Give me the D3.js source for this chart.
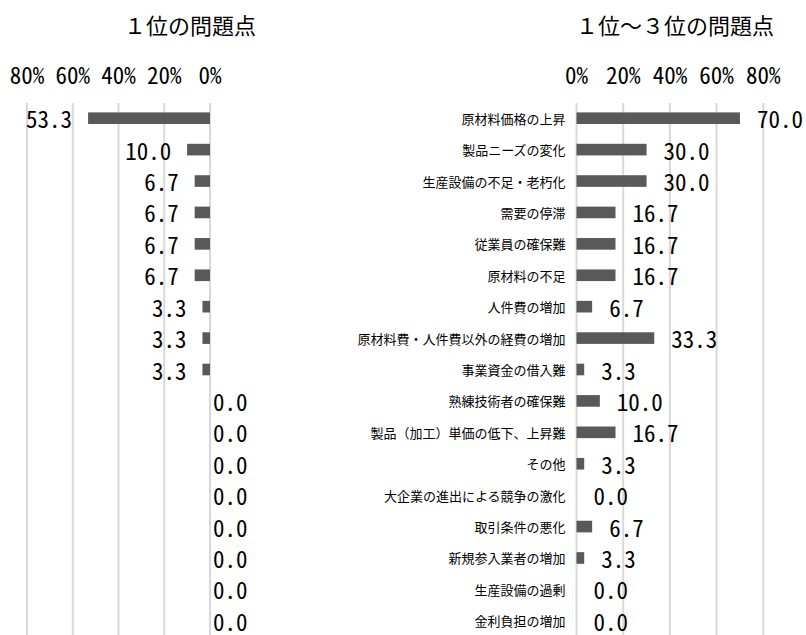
<!DOCTYPE html>
<html>
<head>
<meta charset="utf-8">
<script src="https://cdn.jsdelivr.net/npm/d3@7"></script>
<style>
  body { margin: 0; background: #fff; }
</style>
</head>
<body>
<svg width="806" height="635"></svg>
<script>
// categories top to bottom
const categories = [
    "原材料価格の上昇",
    "製品ニーズの変化",
    "生産設備の不足・老朽化",
    "需要の停滞",
    "従業員の確保難",
    "原材料の不足",
    "人件費の増加",
    "原材料費・人件費以外の経費の増加",
    "事業資金の借入難",
    "熟練技術者の確保難",
    "製品（加工）単価の低下、上昇難",
    "その他",
    "大企業の進出による競争の激化",
    "取引条件の悪化",
    "新規参入業者の増加",
    "生産設備の過剰",
    "金利負担の増加"
];
// 1位の問題点 (%)
const rank1 = [53.3, 10.0, 6.7, 6.7, 6.7, 6.7, 3.3, 3.3, 3.3, 0, 0, 0, 0, 0, 0, 0, 0];
// 1位～3位の問題点 (%)
const rank1to3 = [70.0, 30.0, 30.0, 16.7, 16.7, 16.7, 6.7, 33.3, 3.3, 10.0, 16.7, 3.3, 0, 6.7, 3.3, 0, 0];
const ticks = [0, 20, 40, 60, 80];
const titles = ["１位の問題点", "１位～３位の問題点"];

const jpFont = '"Noto Sans CJK JP", "Noto Sans CJK SC", sans-serif';
const numFont = '"Noto Sans Mono CJK JP", "Noto Sans CJK JP", monospace';

const svg = d3.select("svg");

const xL = d3.scaleLinear().domain([0, 80]).range([210, 27]);
const xR = d3.scaleLinear().domain([0, 80]).range([576.5, 763.3]);
const y = d3.scaleBand().domain(categories).range([102.5, 636.5])
    .paddingInner(0.63).paddingOuter(0.315);

const rows = categories.map(function(c, i) {
    return {cat: c, a: rank1[i], b: rank1to3[i]};
});

function drawGrid(x) {
    svg.append("g").selectAll("line")
        .data(ticks)
        .enter().append("line")
        .attr("x1", function(d) { return x(d); })
        .attr("x2", function(d) { return x(d); })
        .attr("y1", 103)
        .attr("y2", 635)
        .style("stroke", "#d9d9d9")
        .style("stroke-width", 2);

    svg.append("g").selectAll("text")
        .data(ticks)
        .enter().append("text")
        .attr("x", function(d) { return x(d); })
        .attr("y", 74)
        .attr("text-anchor", "middle")
        .attr("dominant-baseline", "central")
        .style("font-family", numFont)
        .style("font-size", "23px")
        .style("fill", "#000")
        .text(function(d) { return d + "%"; });
}

drawGrid(xL);
drawGrid(xR);

// titles
svg.append("text")
    .attr("x", 190).attr("y", 24)
    .attr("text-anchor", "middle")
    .attr("dominant-baseline", "central")
    .style("font-family", jpFont)
    .style("font-size", "22px")
    .text(titles[0]);

svg.append("text")
    .attr("x", 675).attr("y", 24)
    .attr("text-anchor", "middle")
    .attr("dominant-baseline", "central")
    .style("font-family", jpFont)
    .style("font-size", "22px")
    .text(titles[1]);

// left bars (reversed axis)
svg.append("g").selectAll("rect")
    .data(rows)
    .enter().append("rect")
    .attr("x", function(d) { return xL(d.a); })
    .attr("y", function(d) { return y(d.cat); })
    .attr("width", function(d) { return xL(0) - xL(d.a); })
    .attr("height", y.bandwidth())
    .style("fill", "#595959");

svg.append("g").selectAll("text")
    .data(rows)
    .enter().append("text")
    .attr("x", function(d) { return d.a > 0 ? xL(d.a) - 16 : xL(0) + 3; })
    .attr("y", function(d) { return y(d.cat) + y.bandwidth() / 2; })
    .attr("text-anchor", function(d) { return d.a > 0 ? "end" : "start"; })
    .attr("dominant-baseline", "central")
    .style("font-family", numFont)
    .style("font-size", "23px")
    .style("fill", "#000")
    .text(function(d) { return d.a.toFixed(1); });

// category labels
svg.append("g").selectAll("text")
    .data(rows)
    .enter().append("text")
    .attr("x", xR(0) - 11)
    .attr("y", function(d) { return y(d.cat) + y.bandwidth() / 2; })
    .attr("text-anchor", "end")
    .attr("dominant-baseline", "central")
    .style("font-family", jpFont)
    .style("font-size", "13px")
    .style("fill", "#000")
    .text(function(d) { return d.cat; });

// right bars
svg.append("g").selectAll("rect")
    .data(rows)
    .enter().append("rect")
    .attr("x", xR(0))
    .attr("y", function(d) { return y(d.cat); })
    .attr("width", function(d) { return xR(d.b) - xR(0); })
    .attr("height", y.bandwidth())
    .style("fill", "#595959");

svg.append("g").selectAll("text")
    .data(rows)
    .enter().append("text")
    .attr("x", function(d) { return xR(d.b) + 17; })
    .attr("y", function(d) { return y(d.cat) + y.bandwidth() / 2; })
    .attr("text-anchor", "start")
    .attr("dominant-baseline", "central")
    .style("font-family", numFont)
    .style("font-size", "23px")
    .style("fill", "#000")
    .text(function(d) { return d.b.toFixed(1); });
</script>
</body>
</html>
